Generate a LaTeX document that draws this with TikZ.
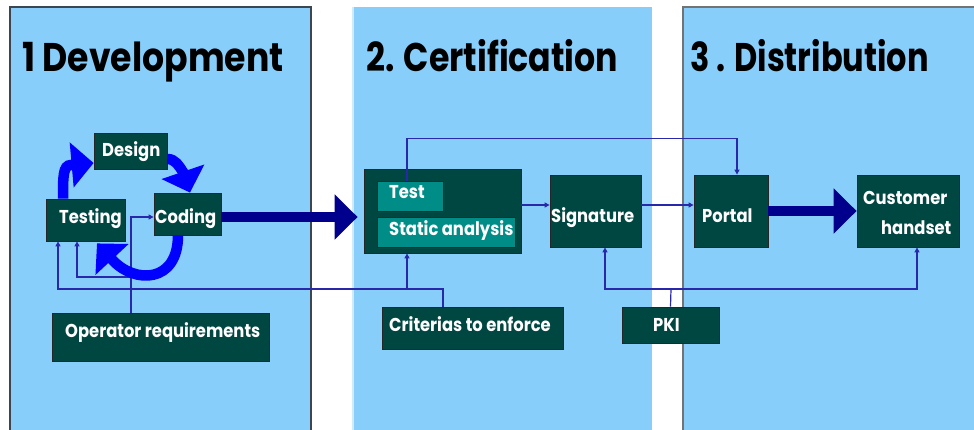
\documentclass[tikz,border=0pt]{standalone}
\usepackage{fontspec}
\usepackage{graphicx}
\setmainfont{Poppins}
\usetikzlibrary{arrows.meta,bending}
\definecolor{panel}{RGB}{135,206,250}
\definecolor{panelline}{RGB}{60,70,80}
\definecolor{boxc}{RGB}{0,70,65}
\definecolor{teal2}{RGB}{0,140,135}
\definecolor{cyc}{RGB}{0,0,255}
\definecolor{navyc}{RGB}{0,0,140}
\definecolor{conn}{RGB}{40,40,170}
\newcommand{\bxs}[1]{\scalebox{0.88}[1]{#1}}
\tikzset{
  darkbox/.style={draw=black!85,line width=0.8pt,fill=boxc,inner sep=0pt},
  tealbox/.style={draw=black!85,line width=0.8pt,fill=teal2,inner sep=0pt},
  btxt/.style={text=white,font=\bfseries\fontsize{18.6}{20}\selectfont,inner sep=0pt,anchor=base west},
  ttl/.style={text=black,font=\bfseries\fontsize{40}{44}\selectfont,inner sep=0pt,anchor=base west},
  thin/.style={draw=conn,line width=1.2pt,-{Triangle[length=5pt,width=5pt]}},
  thinline/.style={draw=conn,line width=1.2pt},
  cycarrow/.style={draw=cyc,line width=10.5pt,-{Triangle[length=22pt,width=44pt]}},
  bigarrow/.style={draw=navyc,line width=10pt,-{Triangle[length=23pt,width=44pt]}}
}
\begin{document}
\begin{tikzpicture}[x=1pt,y=1pt]
\useasboundingbox (0,0) rectangle (974,-430);
% panels
\fill[panel] (10,-7) rectangle (311,-430);
\draw[panelline,line width=1.5pt] (10,-430) -- (10,-7) -- (311,-7) -- (311,-430);
\fill[panel] (353,-7) rectangle (652,-430);
\draw[white!60!panel,line width=1.5pt] (353,-430) -- (353,-7);
\fill[panel] (683,-7) rectangle (974,-430);
\draw[gray!90!black,line width=1.5pt] (683,-430) -- (683,-7) -- (974,-7);
% titles
\node[ttl] (t1) at (22,-72) {\scalebox{0.867}[1]{1 Development}};
\node[ttl] (t2) at (366,-72) {\scalebox{0.83}[1]{2. Certification}};
\node[ttl] (t3) at (690,-72) {\scalebox{0.8}[1]{3 . Distribution}};
% boxes
\node[darkbox,minimum width=73pt,minimum height=36pt] (design) at (130.5,-151) {};
\node[darkbox,minimum width=79pt,minimum height=42pt] (testing) at (85.5,-220) {};
\node[darkbox,minimum width=67pt,minimum height=42pt] (coding) at (187.5,-214) {};
\node[darkbox,minimum width=217pt,minimum height=48pt] (opr) at (160.5,-337) {};
\node[darkbox,minimum width=157pt,minimum height=84pt] (cert) at (442.5,-211) {};
\node[tealbox,minimum width=66pt,minimum height=30pt] (tst) at (410,-196) {};
\node[tealbox,minimum width=138pt,minimum height=30pt] (sa) at (446,-232) {};
\node[darkbox,minimum width=91pt,minimum height=72pt] (sig) at (595.5,-211) {};
\node[darkbox,minimum width=181pt,minimum height=42pt] (crit) at (472.5,-328) {};
\node[darkbox,minimum width=97pt,minimum height=36pt] (pki) at (670.5,-325) {};
\node[darkbox,minimum width=74pt,minimum height=72pt] (portal) at (731,-211) {};
\node[darkbox,minimum width=102pt,minimum height=72pt] (cust) at (908,-211) {};
% box texts
\node[btxt] (designT) at (102,-157) {\bxs{Design}};
\node[btxt] (testingT) at (59,-224) {\bxs{Testing}};
\node[btxt] (codingT) at (155,-224) {\bxs{Coding}};
\node[btxt] (oprT) at (65,-337) {\bxs{Operator requirements}};
\node[btxt] (tstT) at (389,-199) {\bxs{Test}};
\node[btxt] (saT) at (389,-236) {\bxs{Static analysis}};
\node[btxt] (sigT) at (551,-223) {\bxs{Signature}};
\node[btxt] (critT) at (389,-331) {\bxs{Criterias to enforce}};
\node[btxt] (pkiT) at (653,-331) {\bxs{PKI}};
\node[btxt] (portalT) at (702,-223) {\bxs{Portal}};
\node[btxt] (custT1) at (863,-205) {\bxs{Customer}};
\node[btxt] (custT2) at (881,-235) {\bxs{handset}};
% junctions
\coordinate (jA) at (407,-289);
\coordinate (jB) at (671,-289);
\coordinate (jC) at (131,-277);
\coordinate (baseA) at (71,-165);
\coordinate (baseB) at (183,-172);
\coordinate (baseC) at (112.5,-260);
% thin connectors
\draw[thin] ([xshift=-3pt]tst.north) -- ++(0,42) -| ([xshift=6pt]portal.north);
\draw[thin] ([yshift=6pt]cert.east) -- ([yshift=6pt]sig.west);
\draw[thin] ([yshift=6pt]sig.east) -- ([yshift=6pt]portal.west);
\draw[thin] ([xshift=-29.5pt]crit.north) |- (jA) -- (jA |- cert.south);
\draw[thin] (jA) -| ([xshift=-27.5pt]testing.south);
\draw[thinline] (pki.north) -- (jB);
\draw[thin] (jB) -| ([xshift=9.5pt]sig.south);
\draw[thin] (jB) -| ([xshift=9pt]cust.south);
\draw[thin] ([xshift=-29.5pt]opr.north) |- ([yshift=-3pt]coding.west);
\draw[thin] (jC) -| ([xshift=-8.5pt]testing.south);
% cycle arrows
\draw[cycarrow] ([xshift=-22.5pt]testing.north) .. controls +(0,22) and +(-8,0) .. (baseA) -- ([yshift=-12pt]design.west);
\draw[cycarrow] ([yshift=-8pt]design.east) .. controls +(8,0) and +(-4,6) .. (baseB) -- ([xshift=2.5pt]coding.north);
\draw[cycarrow] ([xshift=-9.5pt]coding.south) .. controls +(0,-48) and +(22,-24) .. (baseC) -- ([xshift=11.5pt,yshift=-2pt]testing.south);
% big arrows
\draw[bigarrow] ([yshift=-3pt]coding.east) -- ([xshift=-6pt,yshift=-6pt]cert.west);
\draw[bigarrow] (portal.east) -- (cust.west);
\end{tikzpicture}
\end{document}
